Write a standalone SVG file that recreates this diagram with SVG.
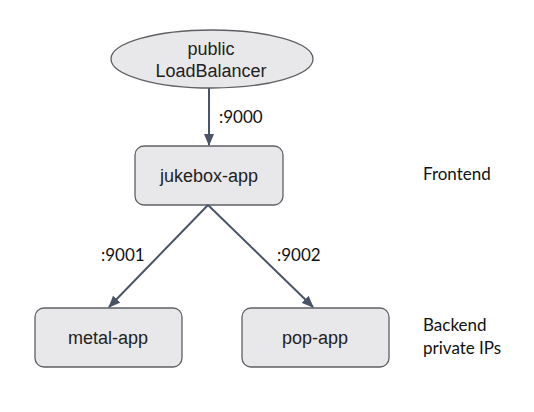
<svg xmlns="http://www.w3.org/2000/svg" width="534" height="412" viewBox="0 0 534 412">
<defs>
<marker id="arr" viewBox="0 0 12 10" refX="11" refY="5" markerWidth="12" markerHeight="10" markerUnits="userSpaceOnUse" orient="auto">
<path d="M0,0 L12,5 L0,10 z" fill="#4a5468"/>
</marker>
<style>
.node{fill:#e8e8ea;stroke:#5f6064;stroke-width:1.3}
.nt{font-family:"Liberation Sans",Arial,sans-serif;font-size:18px;fill:#222;text-anchor:middle}
.lbl{font-family:Lato,"Open Sans",sans-serif;font-size:17px;fill:#111}
.edge{stroke:#4a5468;stroke-width:2;fill:none}
</style>
</defs>
<rect width="534" height="412" fill="#fff"/>
<g id="loadbalancer">
<ellipse class="node" cx="212" cy="59" rx="101" ry="29"/>
<text class="nt" x="211" y="55">public</text>
<text class="nt" x="211" y="77">LoadBalancer</text>
</g>
<g id="jukebox-app">
<rect class="node" x="135" y="146" width="148" height="59" rx="9"/>
<text class="nt" x="209" y="182">jukebox-app</text>
</g>
<g id="metal-app">
<rect class="node" x="35" y="308" width="147" height="59" rx="9"/>
<text class="nt" x="108" y="344">metal-app</text>
</g>
<g id="pop-app">
<rect class="node" x="242" y="308" width="147" height="59" rx="9"/>
<text class="nt" x="315" y="344">pop-app</text>
</g>
<g id="connectors">
<line class="edge" x1="209" y1="88" x2="209" y2="145" marker-end="url(#arr)"/>
<line class="edge" x1="208" y1="205" x2="109" y2="307" marker-end="url(#arr)"/>
<line class="edge" x1="208" y1="205" x2="313" y2="307" marker-end="url(#arr)"/>
</g>
<g id="labels">
<text class="lbl" x="219" y="123">:9000</text>
<text class="lbl" x="101" y="261">:9001</text>
<text class="lbl" x="277" y="261">:9002</text>
<text class="lbl" x="423" y="180">Frontend</text>
<text class="lbl" x="423" y="331">Backend</text>
<text class="lbl" x="423" y="354">private IPs</text>
</g>
</svg>
